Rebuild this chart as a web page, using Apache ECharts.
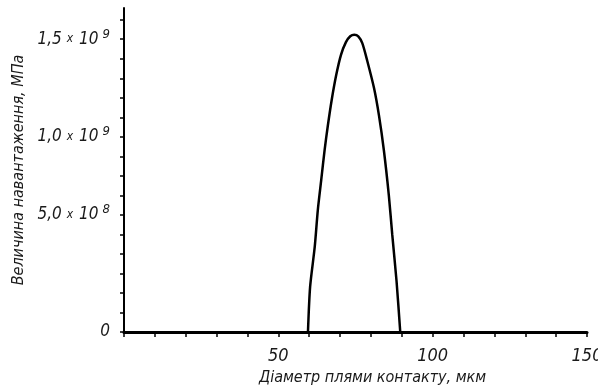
<!DOCTYPE html>
<html>
<head>
<meta charset="utf-8">
<script src="https://cdn.jsdelivr.net/npm/echarts@6/dist/echarts.min.js"></script>
<style>html,body{margin:0;padding:0;background:#fff}#c{width:598px;height:385px}</style>
</head>
<body>
<div id="c"></div>
<script>
// Data
var diameter = [59.6, 60.3, 61.8, 62.8, 63.9, 65.0, 66.0, 67.3, 68.8, 70.3, 71.9, 73.3, 74.6, 75.9, 77.2, 78.8, 81.0, 82.6, 84.2, 85.8, 86.9, 88.3, 89.5];
var stress   = [0, 0.232e9, 0.437e9, 0.626e9, 0.779e9, 0.933e9, 1.053e9, 1.19e9, 1.32e9, 1.42e9, 1.485e9, 1.515e9, 1.523e9, 1.515e9, 1.48e9, 1.39e9, 1.25e9, 1.11e9, 0.93e9, 0.70e9, 0.50e9, 0.26e9, 0];
var xTickLabels = [50, 100, 150];
var yTickValues = [0, 6e8, 1e9, 1.5e9];
var yTickMantissa = ['0', '5,0', '1,0', '1,5'];
var yTickExponent = ['', '8', '9', '9'];
var yMinorTicks = [];
for (var i = 0; i <= 16; i++) yMinorTicks.push(i * 1e8);

var font = "'Liberation Sans Narrow', 'DejaVu Sans Condensed', sans-serif";
var chart = echarts.init(document.getElementById('c'));
chart.setOption({
  animation: false,
  grid: {left: 124, right: 11, top: 8, bottom: 53, containLabel: false, outerBoundsMode: 'none'},
  xAxis: {
    type: 'value', min: 0, max: 150, interval: 10,
    name: 'Діаметр плями контакту, мкм', nameLocation: 'middle', nameGap: 31,
    nameTextStyle: {fontFamily: font, fontStyle: 'italic', fontSize: 16, color: '#1a1a1a', padding: [0, 0, 0, 34]},
    axisLine: {lineStyle: {color: '#000', width: 3}},
    axisTick: {show: true, inside: false, length: 5, lineStyle: {color: '#000', width: 1.5}},
    splitLine: {show: false},
    axisLabel: {
      customValues: xTickLabels, margin: 15,
      fontFamily: font, fontStyle: 'italic', fontSize: 18, color: '#1a1a1a'
    }
  },
  yAxis: {
    type: 'value', min: 0, max: 1.66e9,
    name: 'Величина навантаження, МПа', nameLocation: 'middle', nameGap: 88,
    nameTextStyle: {fontFamily: font, fontStyle: 'italic', fontSize: 16, color: '#1a1a1a'},
    axisLine: {lineStyle: {color: '#000', width: 2}},
    axisTick: {show: true, inside: false, length: 4, customValues: yMinorTicks, lineStyle: {color: '#000', width: 1.5}},
    splitLine: {show: false},
    axisLabel: {
      customValues: yTickValues, margin: 14,
      formatter: function (v) {
        var k = yTickValues.indexOf(v);
        if (k < 0) return '';
        if (!yTickExponent[k]) return '{n|' + yTickMantissa[k] + '}';
        return '{n|' + yTickMantissa[k] + '}{x|x}{n|10}{s|' + yTickExponent[k] + '}';
      },
      rich: {
        n: {fontFamily: font, fontStyle: 'italic', fontSize: 17, color: '#1a1a1a'},
        x: {fontFamily: font, fontStyle: 'italic', fontSize: 12, color: '#1a1a1a', padding: [0, 6, 0, 5]},
        s: {fontFamily: font, fontStyle: 'italic', fontSize: 13, color: '#1a1a1a', padding: [0, 0, 10, 4]}
      }
    }
  },
  series: [{
    type: 'line', data: diameter.map(function (d, i) { return [d, stress[i]]; }),
    smooth: 0.25, symbol: 'none',
    lineStyle: {color: '#000', width: 2.5}
  }]
});
</script>
</body>
</html>
